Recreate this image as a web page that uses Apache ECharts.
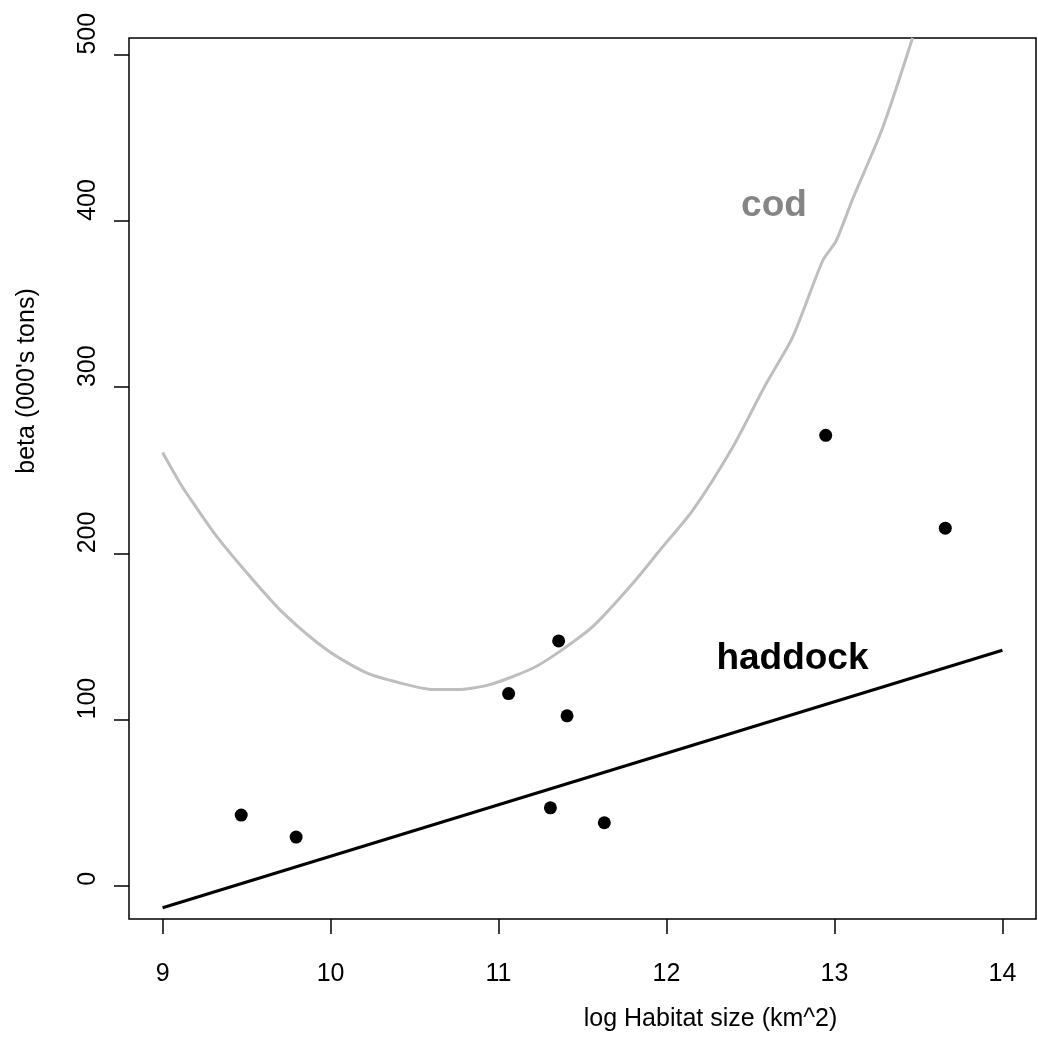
<!DOCTYPE html>
<html>
<head>
<meta charset="utf-8">
<title>beta vs log habitat size</title>
<script src="https://cdn.jsdelivr.net/npm/echarts@6/dist/echarts.min.js"></script>
<style>
  html, body { margin: 0; padding: 0; background: #fff; }
  #chart { width: 1038px; height: 1055px; }
</style>
</head>
<body>
<div id="chart"></div>
<script>
// observed stocks
const obsX = [9.468, 9.795, 11.06, 11.358, 11.408, 11.309, 11.63, 12.948, 13.66];
const obsY = [42.5, 29.3, 115.6, 147.3, 102.2, 46.9, 37.9, 271, 215.1];

// fitted cod curve
const codX = [9.0, 9.105, 9.184, 9.323, 9.521, 9.719, 9.977, 10.215, 10.413, 10.611, 10.75,
  10.948, 11.206, 11.365, 11.562, 11.8, 11.97, 12.157, 12.395, 12.593, 12.751, 12.93,
  13.01, 13.108, 13.287, 13.465];
const codY = [260.6, 242, 230, 210, 186, 164, 142, 128, 122, 118, 118,
  121, 131, 141, 156, 182, 203, 226, 264, 302, 330, 376,
  388, 413, 456, 510];

// fitted haddock line
const hadX = [9, 14];
const hadY = [-13.2, 141.7];

const xTicks = [9, 10, 11, 12, 13, 14];
const yTicks = [0, 100, 200, 300, 400, 500];

// curve labels, in data units
const curveLabels = [
  { name: 'cod', x: 12.64, y: 409, color: '#858585' },
  { name: 'haddock', x: 12.75, y: 136.5, color: '#000' }
];

const FONT = '"Liberation Sans", Arial, Helvetica, sans-serif';
const zip = (xs, ys) => xs.map((x, i) => [x, ys[i]]);

const chart = echarts.init(document.getElementById('chart'));

const option = {
  animation: false,
  backgroundColor: '#fff',
  grid: {
    left: 129, top: 38, right: 2, bottom: 136,
    show: true, borderColor: '#000', borderWidth: 1.5, backgroundColor: 'transparent'
  },
  xAxis: {
    type: 'value',
    min: 8.8, max: 14.2,
    axisLine: { show: false, onZero: false },
    splitLine: { show: false },
    axisTick: {
      show: true, inside: false, length: 15, customValues: xTicks,
      lineStyle: { color: '#000', width: 1.5 }
    },
    axisLabel: {
      customValues: xTicks, margin: 43,
      color: '#000', fontSize: 25, fontFamily: FONT
    }
  },
  yAxis: {
    type: 'value',
    min: -20, max: 510,
    axisLine: { show: false, onZero: false },
    splitLine: { show: false },
    axisTick: {
      show: true, inside: false, length: 15, customValues: yTicks,
      lineStyle: { color: '#000', width: 1.5 }
    },
    axisLabel: {
      customValues: yTicks, margin: 28, rotate: 90, align: 'left',
      color: '#000', fontSize: 25, fontFamily: FONT
    }
  },
  series: [
    {
      name: 'cod',
      type: 'line',
      data: zip(codX, codY),
      showSymbol: false,
      smooth: 0.25,
      lineStyle: { color: '#bebebe', width: 3 },
      z: 2
    },
    {
      name: 'haddock',
      type: 'line',
      data: zip(hadX, hadY),
      showSymbol: false,
      lineStyle: { color: '#000', width: 3 },
      z: 2
    },
    {
      name: 'stocks',
      type: 'scatter',
      data: zip(obsX, obsY),
      symbol: 'circle',
      symbolSize: 13,
      itemStyle: { color: '#000', opacity: 1 },
      z: 3
    },
    {
      name: 'labels',
      type: 'scatter',
      symbolSize: 0,
      silent: true,
      itemStyle: { opacity: 1 },
      data: curveLabels.map(d => ({
        value: [d.x, d.y],
        label: {
          show: true, position: 'inside', formatter: d.name,
          color: d.color, fontSize: 37, fontWeight: 'bold', fontFamily: FONT
        }
      })),
      z: 4
    }
  ],
  graphic: [
    {
      type: 'text', x: 710.5, y: 1019,
      style: {
        text: 'log Habitat size (km^2)', fill: '#000',
        font: '25px ' + FONT, textAlign: 'center', textVerticalAlign: 'middle'
      }
    },
    {
      type: 'text', x: 27.5, y: 381, rotation: Math.PI / 2,
      style: {
        text: "beta (000's tons)", fill: '#000',
        font: '25px ' + FONT, textAlign: 'center', textVerticalAlign: 'middle'
      }
    }
  ]
};

chart.setOption(option);
</script>
</body>
</html>
